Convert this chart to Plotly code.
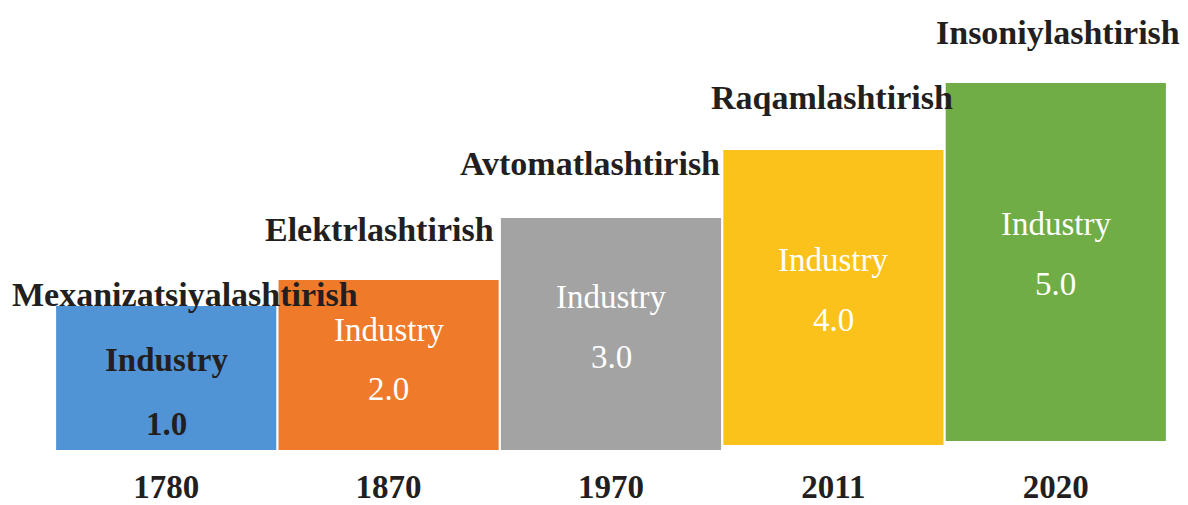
import plotly.graph_objects as go

years = ["1780", "1870", "1970", "2011", "2020"]
stages = ["Mexanizatsiyalashtirish", "Elektrlashtirish", "Avtomatlashtirish",
          "Raqamlashtirish", "Insoniylashtirish"]
versions = ["1.0", "2.0", "3.0", "4.0", "5.0"]
heights = [148, 175, 234, 295, 358]
bases = [-4, -5, -2, 5, 9]
colors = ["#5094d6", "#ef7a2a", "#a3a3a3", "#fbc21c", "#70ad47"]

serif = "Liberation Serif"
ink = "#231f20"

fig = go.Figure()
fig.add_trace(go.Bar(
    x=years, y=heights, base=bases,
    marker=dict(color=colors, line=dict(width=0)),
    hoverinfo="skip",
))

# styles for labels
top_shift = [12, 51, 55, 53, 51]
top_xshift = [19, -9, -21, -1, 2]
inner_up = [20, 38, 38, 38, 38]
inner_down = [44, 21, 22, 22, 22]
inner_bold = [True, False, False, False, False]

for i, yr in enumerate(years):
    top = bases[i] + heights[i]
    mid = bases[i] + heights[i] / 2
    fig.add_annotation(x=i, y=top, text=f"<b>{stages[i]}</b>", showarrow=False,
                       yanchor="middle", yshift=top_shift[i], xshift=top_xshift[i],
                       font=dict(family=serif, size=34, color=ink))
    fcol = ink if inner_bold[i] else "white"
    t1 = "<b>Industry</b>" if inner_bold[i] else "Industry"
    t2 = f"<b>{versions[i]}</b>" if inner_bold[i] else versions[i]
    fig.add_annotation(x=i, y=mid, text=t1, showarrow=False, yanchor="middle",
                       yshift=inner_up[i], font=dict(family=serif, size=33, color=fcol))
    fig.add_annotation(x=i, y=mid, text=t2, showarrow=False, yanchor="middle",
                       yshift=-inner_down[i], font=dict(family=serif, size=33, color=fcol))

# page body has an 8px margin, so the figure is sized to fit the window
fig.update_layout(
    width=1180, height=497,
    margin=dict(l=47, r=21, t=0, b=55),
    paper_bgcolor="white", plot_bgcolor="white",
    bargap=0.01, showlegend=False,
    xaxis=dict(type="category", range=[-0.5, 4.5], automargin=False, showgrid=False,
               zeroline=False, showline=False, ticks="",
               tickfont=dict(family=serif, size=33, color=ink),
               ticklabelstandoff=14, tickprefix="<b>", ticksuffix="</b>"),
    yaxis=dict(visible=False, range=[0, 442], automargin=False),
)

fig.write_html("out.html")
